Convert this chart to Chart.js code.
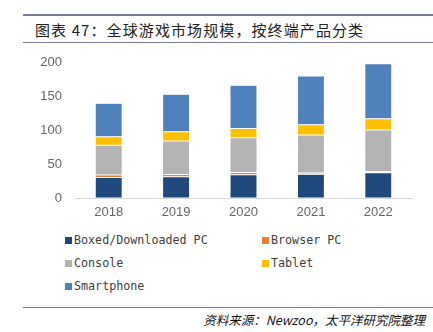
<!DOCTYPE html>
<html>
<head>
<meta charset="utf-8">
<script src="https://cdn.jsdelivr.net/npm/chart.js@4.4.1/dist/chart.umd.min.js"></script>
<style>
  html, body { margin: 0; padding: 0; background: #fff; }
  #wrap { position: relative; width: 433px; height: 332px; overflow: hidden; }
  .rule { position: absolute; left: 23px; right: 0; background: #7a7a9a; }
  #title { position: absolute; left: 35px; top: 19px; font: 15px "Noto Sans CJK SC", sans-serif; color: #222; letter-spacing: 1.1px; }
  #chartBox { position: absolute; left: 0; top: 42px; width: 433px; height: 183px; }
  #legend { position: absolute; left: 0; top: 233px; width: 433px; }
  .lg { position: absolute; font: 11.7px "DejaVu Sans Mono", monospace; color: #404040; white-space: nowrap; }
  .lg i { display: inline-block; width: 7px; height: 7px; margin-right: 2px; vertical-align: 0px; }
  #source { position: absolute; right: 8px; top: 310px; font: italic 12.5px "Noto Sans CJK SC", sans-serif; color: #111; }
</style>
</head>
<body>
<div id="wrap">
  <div class="rule" style="top:14px;height:2px;"></div>
  <div id="title">图表 47：全球游戏市场规模，按终端产品分类</div>
  <div id="chartBox"><canvas id="chart"></canvas></div>
  <div class="rule" style="top:42px;height:1px;"></div>
  <div id="legend"></div>
  <div class="rule" style="top:307px;height:1px;"></div>
  <div id="source">资料来源：Newzoo，太平洋研究院整理</div>
</div>
<script>
// ── Data ──
const YEARS      = ['2018', '2019', '2020', '2021', '2022'];
const BOXED_PC   = [30.4, 31.4, 34.3, 35.3, 37.3];
const BROWSER_PC = [3.6, 3.4, 3.4, 1.5, 1.4];
const CONSOLE    = [44.0, 49.5, 51.5, 56.3, 61.8];
const TABLET     = [12.7, 13.7, 13.7, 15.2, 16.7];
const SMARTPHONE = [49.5, 55.4, 63.8, 72.1, 81.3];
const Y_TICKS    = [0, 50, 100, 150, 200];

const SERIES = [
  { label: 'Boxed/Downloaded PC', data: BOXED_PC,   color: '#1F497D' },
  { label: 'Browser PC',          data: BROWSER_PC, color: '#ED7D31' },
  { label: 'Console',             data: CONSOLE,    color: '#B3B3B3' },
  { label: 'Tablet',              data: TABLET,     color: '#FFC000' },
  { label: 'Smartphone',          data: SMARTPHONE, color: '#4F81BD' },
];

// ── Legend (2 columns, like the report) ──
const legendPos = [[65, 0], [262, 0], [65, 23], [262, 23], [65, 46]];
document.getElementById('legend').innerHTML = SERIES.map((s, i) =>
  `<div class="lg" style="left:${legendPos[i][0]}px;top:${legendPos[i][1]}px"><i style="background:${s.color}"></i>${s.label}</div>`
).join('');

// ── Chart ──
new Chart(document.getElementById('chart'), {
  type: 'bar',
  data: {
    labels: YEARS,
    datasets: SERIES.map(s => ({
      label: s.label,
      data: s.data,
      backgroundColor: s.color,
      borderColor: 'rgba(255,255,255,0.35)',
      borderWidth: 0.5,
      borderSkipped: false,
      categoryPercentage: 1,
      barPercentage: 0.4,
    }))
  },
  options: {
    responsive: true, maintainAspectRatio: false, animation: false,
    layout: { padding: { top: 0, right: 21, left: 0, bottom: 0 } },
    plugins: { legend: { display: false }, tooltip: { enabled: false } },
    scales: {
      x: {
        stacked: true,
        grid: { display: false, drawTicks: false },
        border: { display: true, color: '#D9D9D9', width: 1 },
        ticks: { color: '#666666', font: { family: 'Liberation Sans, Arial', size: 13 }, padding: 7 },
        afterFit: s => { s.height = 27; }
      },
      y: {
        stacked: true, min: 0, max: 200,
        afterBuildTicks: s => { s.ticks = Y_TICKS.map(v => ({ value: v })); },
        grid: { display: false, drawTicks: false },
        border: { display: false },
        ticks: { color: '#666666', font: { family: 'Liberation Sans, Arial', size: 13 }, padding: 13 },
        afterFit: s => { s.width = 75; }
      }
    }
  }
});
</script>
</body>
</html>
